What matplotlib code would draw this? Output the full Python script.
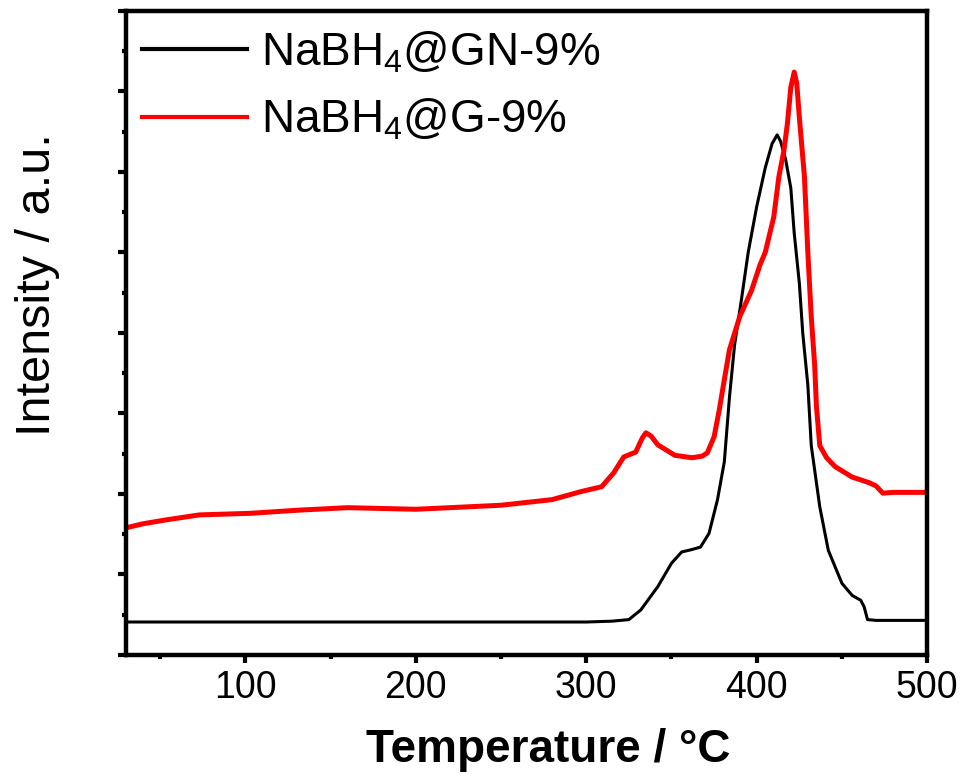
import matplotlib
matplotlib.use("Agg")
import matplotlib.pyplot as plt
from matplotlib.ticker import MultipleLocator, NullFormatter

plt.rcParams['font.family'] = ['Liberation Sans', 'DejaVu Sans']
plt.rcParams['mathtext.fontset'] = 'custom'
plt.rcParams['mathtext.rm'] = 'Liberation Sans'
plt.rcParams['mathtext.default'] = 'regular'

# NaBH4@GN-9% (black)
t_gn = [30, 100, 200, 300, 315, 325, 332, 342, 350, 356, 362, 367, 372, 377,
        381, 384, 387, 391, 395, 400, 405, 409, 412, 414, 417, 420, 422, 425,
        427, 430, 432, 437, 442, 450, 456, 461, 463, 465, 470, 500]
i_gn = [0.41, 0.41, 0.41, 0.41, 0.42, 0.44, 0.56, 0.85, 1.14, 1.28, 1.31, 1.34,
        1.51, 1.93, 2.40, 3.20, 3.85, 4.41, 5.00, 5.57, 6.05, 6.35, 6.46, 6.38,
        6.15, 5.80, 5.24, 4.62, 4.00, 3.35, 2.60, 1.84, 1.30, 0.89, 0.74, 0.68,
        0.60, 0.44, 0.43, 0.43]

# NaBH4@G-9% (red)
t_g = [30, 40, 54, 73, 103, 132, 160, 200, 250, 280, 297, 309, 316, 322, 329,
       333, 335, 338, 342, 352, 362, 368, 371, 375, 378, 381, 384, 390, 397,
       402, 405, 410, 413, 416, 418, 420, 422, 423.5, 425, 428, 430, 432, 434,
       435, 437, 441, 446, 456, 466, 470, 474, 480, 500]
i_g = [1.58, 1.63, 1.68, 1.74, 1.76, 1.80, 1.83, 1.81, 1.86, 1.93, 2.03, 2.09,
       2.26, 2.46, 2.52, 2.70, 2.76, 2.72, 2.61, 2.48, 2.45, 2.47, 2.51, 2.71,
       3.04, 3.42, 3.79, 4.20, 4.53, 4.85, 5.00, 5.44, 5.94, 6.27, 6.60, 7.05,
       7.24, 7.10, 6.68, 5.94, 5.00, 4.20, 3.60, 3.10, 2.60, 2.45, 2.34, 2.21,
       2.14, 2.10, 2.01, 2.02, 2.02]

labels = ['NaBH$_4$@GN-9%', 'NaBH$_4$@G-9%']

fig = plt.figure(figsize=(9.77, 7.77), dpi=100)
ax = fig.add_axes([0.129, 0.157, 0.820, 0.829])

ax.plot(t_gn, i_gn, color='black', lw=2.2, label=labels[0])
ax.plot(t_g, i_g, color='red', lw=3.6, label=labels[1])

ax.set_xlim(30, 500)
ax.set_ylim(0, 8)
ax.xaxis.set_major_locator(MultipleLocator(100))
ax.xaxis.set_minor_locator(MultipleLocator(50))
ax.yaxis.set_major_locator(MultipleLocator(1))
ax.yaxis.set_minor_locator(MultipleLocator(0.5))
ax.yaxis.set_major_formatter(NullFormatter())

for s in ax.spines.values():
    s.set_linewidth(3.2)
ax.tick_params(which='major', direction='out', length=6, width=3, labelsize=27, pad=5)
ax.tick_params(which='minor', direction='out', length=3, width=3)
ax.tick_params(top=False, right=False)

ax.set_xlabel('Temperature / °C', fontsize=33, fontweight='bold')
ax.xaxis.set_label_coords(0.527, -0.113)
ax.set_ylabel('Intensity / a.u.', fontsize=35)
ax.yaxis.set_label_coords(-0.082, 0.575)

leg = ax.legend(loc='upper left', bbox_to_anchor=(0.02, 0.971), frameon=False,
                fontsize=33, handlelength=2.3, handletextpad=0.3,
                labelspacing=0.48, borderaxespad=0, borderpad=0)
for h in leg.get_lines():
    h.set_linewidth(3)

fig.savefig('out.png', dpi=100)
